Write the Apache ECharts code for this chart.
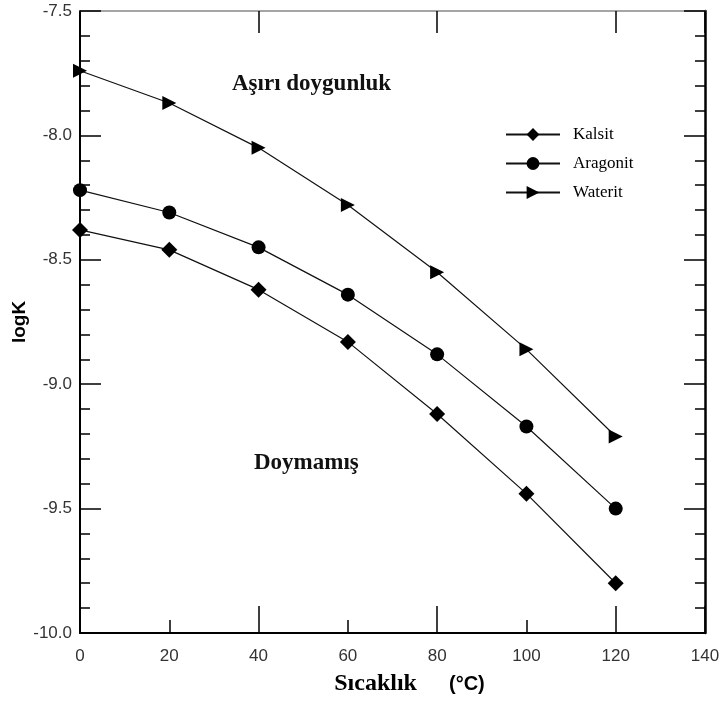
<!DOCTYPE html>
<html>
<head>
<meta charset="utf-8">
<script src="https://cdn.jsdelivr.net/npm/echarts@6/dist/echarts.min.js"></script>
<style>
html, body { margin: 0; padding: 0; background: #fff; }
#chart { width: 724px; height: 701px; }
</style>
</head>
<body>
<div id="chart"></div>
<script>
// sicaklik (°C)
var temps = [0, 20, 40, 60, 80, 100, 120];
// logK degerleri
var kalsit = [-8.38, -8.46, -8.62, -8.83, -9.12, -9.44, -9.80];
var aragonit = [-8.22, -8.31, -8.45, -8.64, -8.88, -9.17, -9.50];
var waterit = [-7.74, -7.87, -8.05, -8.28, -8.55, -8.86, -9.21];

function pairs(vals) {
	var out = [];
	for (var i = 0; i < temps.length; i++) {
		out.push([temps[i], vals[i]]);
	}
	return out;
}

var myChart = echarts.init(document.getElementById('chart'));

var serif = '"Liberation Serif", "DejaVu Serif", serif';
var sans = '"Liberation Sans", Arial, sans-serif';

function line(name, vals, symbol, size) {
	return {
		name : name,
		type : 'line',
		xAxisIndex : 0,
		yAxisIndex : 0,
		data : pairs(vals),
		symbol : symbol,
		symbolSize : size,
		lineStyle : { color : '#111', width : 1.2 },
		itemStyle : { color : '#000' },
		animation : false
	};
}

//sadece tick cizen eksen
function tickAxis(pos, min, max, interval, len, lineShow, lineColor, lineWidth) {
	return {
		type : 'value', position : pos, min : min, max : max, interval : interval,
		axisLine : { show : lineShow, onZero : false, lineStyle : { color : lineColor, width : lineWidth } },
		axisTick : { inside : true, length : len, lineStyle : { color : '#000', width : 1.5 } },
		axisLabel : { show : false },
		splitLine : { show : false }
	};
}

var option = {
	backgroundColor : '#fff',
	grid : { left : 80, right : 19, top : 11, bottom : 68, outerBoundsMode : 'none', containLabel : false },
	legend : {
		left : 500, top : 121,
		orient : 'vertical',
		itemWidth : 54, itemHeight : 16, itemGap : 12,
		textStyle : { fontFamily : serif, fontSize : 17, color : '#000', padding : [0, 0, 0, 8] },
		data : ['Kalsit', 'Aragonit', 'Waterit']
	},
	xAxis : [{
		type : 'value', position : 'bottom', min : 0, max : 140, interval : 20,
		axisLine : { onZero : false, lineStyle : { color : '#000', width : 2 } },
		axisTick : { inside : true, length : 13, lineStyle : { color : '#000', width : 1.5 } },
		axisLabel : { fontFamily : sans, fontSize : 17, color : '#333', margin : 15 },
		splitLine : { show : false },
		name : '{a|Sıcaklık}{b|(°C)}',
		nameLocation : 'middle', nameGap : 39,
		nameTextStyle : {
			rich : {
				a : { fontFamily : serif, fontSize : 24, fontWeight : 'bold', color : '#000', padding : [0, 0, 0, 34] },
				b : { fontFamily : sans, fontSize : 20, fontWeight : 'bold', color : '#000', padding : [0, 0, 0, 32] }
			}
		}
	},
		tickAxis('bottom', 0, 140, 40, 27, false, '#000', 1),
		tickAxis('top', 0, 140, 40, 22, true, '#888', 1.5)
	],
	yAxis : [{
		type : 'value', position : 'left', min : -10, max : -7.5, interval : 0.5,
		axisLine : { onZero : false, lineStyle : { color : '#000', width : 2 } },
		axisTick : { inside : true, length : 21, lineStyle : { color : '#000', width : 1.5 } },
		axisLabel : {
			fontFamily : sans, fontSize : 17, color : '#333', margin : 8,
			formatter : function(v) { return v.toFixed(1); }
		},
		splitLine : { show : false },
		name : 'logK', nameLocation : 'middle', nameGap : 51, nameRotate : 90, nameMoveOverlap : false,
		nameTextStyle : { fontFamily : sans, fontSize : 19, fontWeight : 'bold', color : '#000' }
	},
		tickAxis('left', -10, -7.5, 0.1, 10, false, '#000', 1),
		tickAxis('right', -10, -7.5, 0.5, 21, true, '#000', 2.5),
		tickAxis('right', -10, -7.5, 0.1, 10, false, '#000', 1)
	],
	graphic : [{
		type : 'text', left : 232, top : 73,
		style : { text : 'Aşırı doygunluk', font : 'bold 23px ' + serif, fill : '#111' }
	}, {
		type : 'text', left : 254, top : 452,
		style : { text : 'Doymamış', font : 'bold 23px ' + serif, fill : '#111' }
	}],
	series : [
		line('Kalsit', kalsit, 'diamond', 16),
		line('Aragonit', aragonit, 'circle', 14),
		line('Waterit', waterit, 'triangle', 14)
	]
};
// ucgen saga baksin
option.series[2].symbolRotate = -90;

myChart.setOption(option);
</script>
</body>
</html>
